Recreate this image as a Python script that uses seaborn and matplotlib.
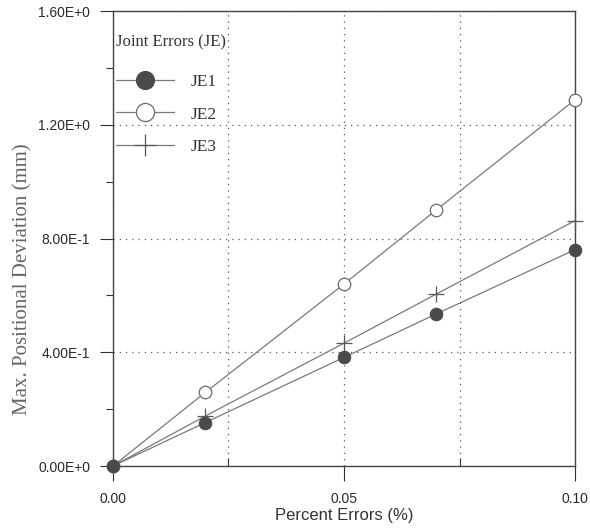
import matplotlib
matplotlib.use("Agg")
import matplotlib.pyplot as plt
from matplotlib.ticker import MultipleLocator, FuncFormatter
import seaborn as sns
import pandas as pd

percent_errors = [0.0, 0.02, 0.05, 0.07, 0.10]
je1 = [0.0, 0.153, 0.382, 0.535, 0.761]
je2 = [0.0, 0.259, 0.640, 0.901, 1.288]
je3 = [0.0, 0.176, 0.432, 0.605, 0.863]
series_names = ["JE1", "JE2", "JE3"]

sns.set_theme(style="white")
plt.rcParams['font.family'] = ['Liberation Sans', 'DejaVu Sans']
serif = ["Liberation Serif", "DejaVu Serif"]

fig = plt.figure(figsize=(5.9, 5.28), dpi=100)
ax = fig.add_axes([0.1915, 0.1174, 0.7831, 0.8616])

line_col = "#7a7a7a"
styles = {
    "JE1": dict(marker="o", markersize=9, markerfacecolor="#4a4a4a", markeredgecolor="#4a4a4a"),
    "JE2": dict(marker="o", markersize=9, markerfacecolor="white", markeredgecolor="#6a6a6a", markeredgewidth=0.9),
    "JE3": dict(marker="+", markersize=11, markeredgecolor="#555555", markeredgewidth=0.9),
}
zorders = {"JE1": 5, "JE2": 4, "JE3": 3}
for name, vals in zip(series_names, [je1, je2, je3]):
    df = pd.DataFrame({"x": percent_errors, "y": vals})
    sns.lineplot(data=df, x="x", y="y", ax=ax, color=line_col, linewidth=0.9,
                 label=name, zorder=zorders[name], clip_on=False, **styles[name])

ax.set_xlim(0, 0.10)
ax.set_ylim(0, 1.6)
ax.xaxis.set_major_locator(MultipleLocator(0.05))
ax.xaxis.set_minor_locator(MultipleLocator(0.025))
ax.yaxis.set_major_locator(MultipleLocator(0.4))
ax.yaxis.set_minor_locator(MultipleLocator(0.2))
ax.xaxis.set_major_formatter(FuncFormatter(lambda v, p: f"{v:.2f}"))

def yfmt(v, p):
    if abs(v) < 1e-12:
        return "0.00E+0"
    s = f"{v:.2E}"
    mant, ex = s.split("E")
    return f"{mant}E{int(ex):+d}"
ax.yaxis.set_major_formatter(FuncFormatter(yfmt))

ax.tick_params(axis="y", which="major", direction="out", length=9.5, width=0.8,
               colors="#333333", labelsize=10, labelcolor="#2a2a2a", left=True, pad=7)
ax.tick_params(axis="y", which="minor", direction="out", length=5, width=0.8,
               colors="#333333", left=True)
ax.tick_params(axis="x", which="major", direction="out", length=11, width=0.8,
               colors="#333333", labelsize=10, labelcolor="#2a2a2a", bottom=True, pad=8)
ax.tick_params(axis="x", which="minor", direction="in", length=6, width=0.8,
               colors="#333333", bottom=True)

ax.grid(True, which="major", axis="y", linestyle=(0, (1, 4)), color="#555555", linewidth=0.9)
ax.grid(True, which="both", axis="x", linestyle=(0, (1, 4)), color="#555555", linewidth=0.9)
ax.set_axisbelow(True)

for sp in ax.spines.values():
    sp.set_color("#444444")
    sp.set_linewidth(1.0)
    sp.set_visible(True)

ax.set_xlabel("Percent Errors (%)", fontsize=12, color="#333333", labelpad=1)
ax.set_ylabel("Max. Positional Deviation (mm)", fontsize=15, color="#666666",
              family=serif)
ax.yaxis.set_label_coords(-0.175, 0.41)

leg = ax.legend(title="Joint Errors (JE)", loc="upper left", frameon=False,
                handlelength=3.3, handletextpad=1.0, labelspacing=0.95,
                borderaxespad=0.0, borderpad=0.2, markerscale=1.45,
                prop={"family": serif, "size": 12.5},
                bbox_to_anchor=(0.0, 0.957))
leg.get_title().set_family(serif)
leg.get_title().set_fontsize(12)
leg._legend_box.align = "left"
leg._legend_box.sep = 17
for t in leg.get_texts():
    t.set_color("#333333")
leg.get_title().set_color("#333333")

fig.savefig("out.png", dpi=100, facecolor="white")
